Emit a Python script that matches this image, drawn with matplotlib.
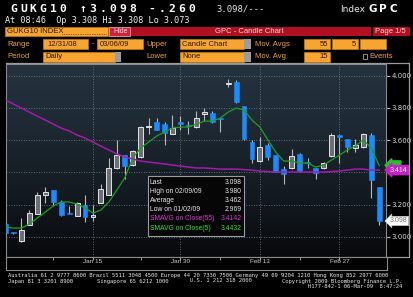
import numpy as np
import pandas as pd
import matplotlib
matplotlib.use("Agg")
import matplotlib.pyplot as plt
from matplotlib.patches import Rectangle
from matplotlib.transforms import blended_transform_factory

W, H = 414, 297

# trading days shown (Jan 1 is a holiday)
dates = [d for d in pd.bdate_range("2008-12-30", "2009-03-06") if d != pd.Timestamp("2009-01-01")]

opens = [3.080, 3.027, 2.975, 3.070, 3.140, 3.260, 3.290, 3.215, 3.147, 3.130,
         3.195, 3.120, 3.210, 3.260, 3.425, 3.505, 3.445, 3.495, 3.680, 3.710,
         3.700, 3.640, 3.710, 3.697, 3.680, 3.765, 3.770, 3.737, 3.950, 3.960,
         3.810, 3.590, 3.470, 3.570, 3.505, 3.420, 3.425, 3.515, 3.460, 3.430,
         3.430, 3.500, 3.630, 3.605, 3.550, 3.560, 3.630, 3.308]
highs = [3.085, 3.030, 3.115, 3.165, 3.280, 3.310, 3.290, 3.230, 3.190, 3.215,
         3.260, 3.195, 3.330, 3.490, 3.600, 3.505, 3.540, 3.685, 3.740, 3.740,
         3.710, 3.755, 3.750, 3.720, 3.780, 3.800, 3.780, 3.737, 3.980, 3.975,
         3.815, 3.600, 3.620, 3.580, 3.510, 3.440, 3.545, 3.520, 3.490, 3.430,
         3.465, 3.645, 3.635, 3.610, 3.610, 3.645, 3.645, 3.308]
lows = [3.015, 3.018, 2.969, 3.070, 3.140, 3.210, 3.190, 3.130, 3.140, 3.130,
        3.090, 3.100, 3.210, 3.260, 3.420, 3.360, 3.440, 3.490, 3.640, 3.660,
        3.570, 3.640, 3.660, 3.640, 3.675, 3.720, 3.705, 3.650, 3.930, 3.830,
        3.600, 3.455, 3.465, 3.475, 3.400, 3.330, 3.420, 3.400, 3.430, 3.360,
        3.420, 3.495, 3.460, 3.525, 3.525, 3.550, 3.240, 3.073]
closes = [3.020, 3.020, 3.040, 3.145, 3.260, 3.280, 3.215, 3.135, 3.140, 3.210,
          3.120, 3.135, 3.295, 3.425, 3.505, 3.440, 3.535, 3.680, 3.690, 3.660,
          3.645, 3.675, 3.700, 3.690, 3.740, 3.772, 3.710, 3.730, 3.957, 3.840,
          3.605, 3.480, 3.555, 3.495, 3.405, 3.390, 3.500, 3.410, 3.455, 3.395,
          3.455, 3.635, 3.620, 3.555, 3.570, 3.640, 3.355, 3.098]

sma5 = [3.060, 3.054, 3.054, 3.079, 3.116, 3.153, 3.191, 3.216, 3.216, 3.203,
        3.178, 3.147, 3.166, 3.216, 3.290, 3.365, 3.489, 3.551, 3.588, 3.625,
        3.650, 3.675, 3.681, 3.681, 3.700, 3.718, 3.718, 3.737, 3.774, 3.799,
        3.787, 3.725, 3.681, 3.601, 3.526, 3.470, 3.470, 3.458, 3.458, 3.433,
        3.445, 3.476, 3.507, 3.539, 3.563, 3.601, 3.551, 3.443]
sma55 = [3.849, 3.824, 3.799, 3.774, 3.749, 3.725, 3.700, 3.675, 3.657, 3.632,
         3.613, 3.588, 3.563, 3.539, 3.514, 3.495, 3.483, 3.470, 3.464, 3.458,
         3.452, 3.445, 3.439, 3.433, 3.427, 3.427, 3.424, 3.420, 3.420, 3.420,
         3.417, 3.414, 3.408, 3.405, 3.402, 3.402, 3.402, 3.402, 3.402, 3.402,
         3.402, 3.405, 3.408, 3.414, 3.420, 3.420, 3.414, 3.414]

tick_days = ["2009-01-15", "2009-01-30", "2009-02-13", "2009-02-27"]
tick_labels = ["Jan 15", "Jan 30", "Feb 13", "Feb 27"]
minor_days = ["2009-01-08", "2009-01-23", "2009-02-06", "2009-02-20"]
price_ticks = [3.0, 3.2, 3.4, 3.6, 3.8, 4.0]
price_labels = ["3.000", "3.200", "", "3.600", "3.800", "4.000"]  # 3.400 sits under the tags

stat_labels = ["Last", "High on 02/09/09", "Average", "Low on 01/02/09",
               "SMAVG on Close(55)", "SMAVG on Close(5)"]
stat_values = ["3.098", "3.980", "3.462", "2.969", "3.4142", "3.4432"]
stat_colors = ["#e6e6e6"] * 4 + ["#e02ee0", "#2ee02e"]

ORANGE = "#f7a530"
LABEL = "#f0a030"
INK = "#2a1800"
MONO = "DejaVu Sans Mono"
SANS = "Liberation Sans"

fig = plt.figure(figsize=(W / 100, H / 100), dpi=100, facecolor="black")


def fx(x):
    return x / W


def fy(y):
    return 1 - y / H


def box(x0, y0, x1, y1, fc, ec="none", lw=0.5, z=2):
    fig.add_artist(Rectangle((fx(x0), fy(y1)), (x1 - x0) / W, (y1 - y0) / H,
                             transform=fig.transFigure, fc=fc, ec=ec, lw=lw, zorder=z))


def txt(x, y, s, size=5.5, color="white", ha="left", weight="normal", family=SANS, z=12):
    fig.text(fx(x), fy(y), s, fontsize=size, color=color, ha=ha, va="center",
             fontweight=weight, family=family, zorder=z)


def spaced(x, y, s, step, **kw):
    for k, ch in enumerate(s):
        txt(x + k * step, y, ch, **kw)


# ---- header lines
spaced(10, 9, "GUKG10 \u21913.098 -.260", 9.9, size=8.2, weight="bold", family=MONO)
txt(216, 9.5, "3.098/---", size=6.4, family=MONO, color="#e8e8e8")
txt(340, 9.5, "Index", size=6.5, family="DejaVu Sans", color="#e8e8e8")
spaced(369, 9.5, "GPC", 10.3, size=7.5, weight="bold", family="DejaVu Sans")
txt(5, 20.5, "At 08:46  Op 3.308 Hi 3.308 Lo 3.073", size=6.1, family=MONO, color="#f0f0f0")

# security bar
box(5, 27, 108, 36, ORANGE, ec="#c87a10")
txt(7, 31.5, "GUKG10 INDEX", color=INK)
fig.add_artist(plt.Line2D([fx(62), fx(106)], [fy(34), fy(34)], transform=fig.transFigure,
                          color=INK, lw=0.5, ls=(0, (1, 1.5)), zorder=3))
box(109, 27, 130, 36, "#d0213c", ec="#f2c4cc")
txt(113, 31.5, "Hide", size=5, color="#f6d6dc")
box(131, 27, 371, 36, "#b0101f")
box(373, 27, 410, 36, "#b0101f")
txt(215, 31.5, "GPC - Candle Chart", color="#f4d8d8")
txt(375, 31.5, "Page 1/5", color="#f4d8d8")

# settings rows
for y, lab in [(44, "Range"), (57, "Period")]:
    txt(7, y, lab, color=LABEL)
box(43, 39, 88, 49, ORANGE, ec="#c87a10")
txt(47, 44, "12/31/08", color=INK)
txt(92, 44, "-", color=LABEL)
box(97, 39, 143, 49, ORANGE, ec="#c87a10")
txt(100, 44, "03/06/09", color=INK)
box(43, 52, 115, 62, ORANGE, ec="#c87a10")
box(115, 52, 121, 62, "#9c9c9c")
txt(45, 57, "Daily", color=INK)
txt(146, 44, "Upper", color=LABEL)
txt(146, 57, "Lower", color=LABEL)
for y0, s in [(39, "Candle Chart"), (52, "None")]:
    box(180, y0, 244, y0 + 10, ORANGE, ec="#c87a10")
    box(244, y0, 251, y0 + 10, "#9c9c9c")
    txt(182, y0 + 5, s, color=INK)
txt(255, 44, "Mov. Avgs", color=LABEL)
txt(255, 57, "Mov. Avg", color=LABEL)
for x0, x1, y0, s in [(304, 330, 39, "55"), (332, 358, 39, "5"), (360, 386, 39, ""), (304, 330, 52, "15")]:
    box(x0, y0, x1, y0 + 10, ORANGE, ec="#c87a10")
    if s:
        txt(x1 - 2, y0 + 5, s, color=INK, ha="right")
box(363, 54.5, 367, 58.5, "black", ec="#c0c0c0", lw=0.5)
txt(369, 57, "Events", color=LABEL)

# ---- price panel
x = np.arange(len(dates))
idx = {d.strftime("%Y-%m-%d"): i for i, d in enumerate(dates)}
ax = fig.add_axes([fx(6), fy(257), 380 / W, 193 / H])
x_lo, x_hi = 0.06, 47.86
y_lo, y_hi = 2.874, 4.073
ax.set_xlim(x_lo, x_hi)
ax.set_ylim(y_lo, y_hi)

grad = np.linspace(0, 1, 256) ** 1.3
top = np.array([36, 50, 62]) / 255
bot = np.array([8, 10, 13]) / 255
img = (top[None, :] * (1 - grad[:, None]) + bot[None, :] * grad[:, None])[:, None, :]
ax.imshow(img, extent=[x_lo, x_hi, y_lo, y_hi], aspect="auto", zorder=0, origin="upper")

for p in price_ticks:
    ax.axhline(p, color="#7a8692", lw=0.6, ls=(0, (1, 2)), zorder=1)
for d in tick_days:
    ax.axvline(idx[d], color="#7a8692", lw=0.6, ls=(0, (1, 2)), zorder=1)

o, h, l, c = map(np.array, (opens, highs, lows, closes))
up = c >= o
ax.vlines(x, l, h, color="#b8b8b8", lw=0.8, zorder=3)
body = np.maximum(np.abs(c - o), 0.007)
ax.bar(x[up], body[up], bottom=o[up], width=0.62, color="#6c7076", edgecolor="#e2e2e2", lw=0.7, zorder=4)
ax.bar(x[~up], body[~up], bottom=np.minimum(o, c)[~up], width=0.62, color="#1a8cff",
       edgecolor="#1a8cff", lw=0.4, zorder=4)

ax.plot(x, sma55, color="#a21ca8", lw=1.1, zorder=5)
ax.plot(x, sma5, color="#1f9e1f", lw=0.9, zorder=5)

ax.yaxis.tick_right()
ax.set_yticks(price_ticks)
ax.set_yticklabels(price_labels)
ax.tick_params(axis="y", labelsize=5, labelcolor="#d8d8d8", color="#b0b0b0", length=3, pad=1)
ax.tick_params(axis="x", bottom=False, labelbottom=False)
for sp in ax.spines.values():
    sp.set_color("#8a8a8a")
    sp.set_linewidth(0.8)

tr = blended_transform_factory(ax.transAxes, ax.transData)
# green tag for the 5-day average, mostly covered by the 55-day tag
ax.text(1.01, sma5[-1], "     ", transform=tr, fontsize=5, va="center", ha="left",
        family=SANS, clip_on=False, zorder=8,
        bbox=dict(boxstyle="larrow,pad=0.15", fc="#28c028", ec="#28c028"))
ax.text(1.01, sma55[-1], "3.414", transform=tr, fontsize=5, color="white", va="center", ha="left",
        family=SANS, clip_on=False, zorder=9,
        bbox=dict(boxstyle="larrow,pad=0.15", fc="#c81ec8", ec="#c81ec8"))
ax.text(1.01, closes[-1], "3.098", transform=tr, fontsize=5, color="#707070", va="center", ha="left",
        family=SANS, clip_on=False, zorder=9,
        bbox=dict(boxstyle="larrow,pad=0.15", fc="white", ec="#cccccc", lw=0.5))

# date band
ax2 = fig.add_axes([fx(6), fy(270), 381 / W, 13 / H], facecolor="black")
ax2.set_xlim(x_lo, x_hi * 381 / 380)
ax2.set_ylim(0, 1)
ax2.set_yticks([])
ax2.set_xticks([idx[d] for d in tick_days])
ax2.set_xticks([idx[d] for d in minor_days], minor=True)
ax2.tick_params(axis="x", which="both", bottom=False, labelbottom=False, top=True,
                direction="in", length=2, color="#b0b0b0")
for d, lab in zip(tick_days, tick_labels):
    ax2.text(idx[d], 0.62, lab, fontsize=4.6, color="#d0d0d0", ha="center", va="center", family=SANS)
for sp in ax2.spines.values():
    sp.set_color("#8a8a8a")
    sp.set_linewidth(0.8)

# outer frame of the panel
frame = [(6, 63), (409, 63), (409, 257), (387, 257)]
fig.add_artist(plt.Line2D([fx(a) for a, b in frame], [fy(b) for a, b in frame],
                          transform=fig.transFigure, color="#9a9a9a", lw=0.9, zorder=3))

# statistics box
box(148, 176, 244, 236, "#060606", ec="#9c9c9c", lw=0.8, z=10)
for k, (lab, val, col) in enumerate(zip(stat_labels, stat_values, stat_colors)):
    yy = 182.5 + k * 9.1
    txt(150, yy, lab, size=4.9, color=col)
    txt(242, yy, val, size=4.9, color=col, ha="right")

# footer
FOOT = "#e4e4e4"
txt(8, 275, "Australia 61 2 9777 8600 Brazil 5511 3048 4500 Europe 44 20 7330 7500 "
    "Germany 49 69 9204 1210 Hong Kong 852 2977 6000", size=4, family=MONO, color=FOOT)
txt(8, 281, "Japan 81 3 3201 8900", size=4, family=MONO, color=FOOT)
txt(97, 281, "Singapore 65 6212 1000", size=4, family=MONO, color=FOOT)
txt(190, 281, "U.S. 1 212 318 2000", size=4, family=MONO, color=FOOT)
txt(402, 281, "Copyright 2009 Bloomberg Finance L.P.", size=4, family=MONO, color=FOOT, ha="right")
txt(402, 287, "H177-842-1 06-Mar-09  8:47:24", size=4, family=MONO, color=FOOT, ha="right")

fig.savefig("out.png", dpi=100, facecolor="black")
